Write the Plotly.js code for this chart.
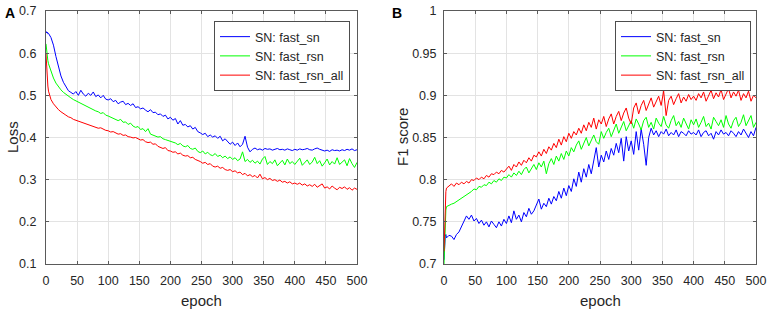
<!DOCTYPE html>
<html>
<head>
<meta charset="utf-8">
<script src="https://cdn.plot.ly/plotly-3.0.1.min.js"></script>
<style>html,body{margin:0;padding:0;background:#fff;}#chart{width:772px;height:314px;}</style>
</head>
<body>
<div id="chart"></div>
<script>
const epochs = [0,1,2,3,
 4,8,12,16,20,24,28,32,36,40,44,48,52,56,60,64,68,72,76,80,84,88,92,96,100,
 104,108,112,116,120,124,128,132,136,140,144,148,152,156,160,164,168,172,176,180,184,188,192,196,200,
 204,208,212,216,220,224,228,232,236,240,244,248,252,256,260,264,268,272,276,280,284,288,292,296,300,
 304,308,312,316,320,324,328,332,336,340,344,348,352,356,360,364,368,372,376,380,384,388,392,396,400,
 404,408,412,416,420,424,428,432,436,440,444,448,452,456,460,464,468,472,476,480,484,488,492,496,500];

const seriesNames = ['SN: fast_sn', 'SN: fast_rsn', 'SN: fast_rsn_all'];

const lossFastSn = [0.652,0.648,0.650,0.646,
 0.647,0.637,0.619,0.592,0.569,0.546,0.531,0.520,0.511,0.507,0.503,0.509,0.500,0.512,0.503,0.498,0.505,0.500,0.508,0.497,0.501,0.494,0.500,0.491,0.489,
 0.492,0.485,0.488,0.480,0.484,0.486,0.478,0.481,0.476,0.480,0.471,0.473,0.468,0.470,0.465,0.461,0.466,0.459,0.460,0.454,0.456,0.450,0.453,0.444,0.448,
 0.441,0.445,0.432,0.440,0.429,0.431,0.425,0.428,0.420,0.424,0.414,0.411,0.407,0.410,0.402,0.406,0.401,0.404,0.398,0.403,0.392,0.397,0.390,0.384,0.389,
 0.381,0.387,0.378,0.384,0.403,0.377,0.366,0.372,0.375,0.371,0.373,0.370,0.374,0.372,0.373,0.370,0.372,0.374,0.371,0.372,0.370,0.373,0.371,0.369,0.372,
 0.370,0.373,0.371,0.372,0.374,0.371,0.370,0.373,0.375,0.372,0.369,0.368,0.370,0.367,0.371,0.369,0.370,0.368,0.371,0.369,0.372,0.370,0.373,0.369,0.371];

const lossFastRsn = [0.622,0.605,0.592,0.582,
 0.575,0.556,0.541,0.529,0.520,0.513,0.507,0.502,0.498,0.494,0.490,0.487,0.484,0.481,0.477,0.475,0.471,0.469,0.466,0.463,0.461,0.457,0.459,0.453,0.451,
 0.448,0.445,0.443,0.440,0.443,0.436,0.437,0.431,0.434,0.427,0.424,0.426,0.419,0.421,0.414,0.421,0.408,0.406,0.404,0.401,0.402,0.397,0.395,0.393,0.391,
 0.389,0.387,0.383,0.386,0.380,0.378,0.381,0.374,0.372,0.375,0.367,0.364,0.368,0.361,0.365,0.359,0.357,0.362,0.355,0.358,0.352,0.356,0.350,0.354,0.348,
 0.352,0.345,0.349,0.366,0.343,0.348,0.341,0.346,0.339,0.344,0.337,0.349,0.355,0.336,0.343,0.338,0.347,0.333,0.341,0.346,0.335,0.349,0.338,0.343,0.336,
 0.344,0.351,0.334,0.340,0.347,0.336,0.342,0.353,0.338,0.345,0.332,0.340,0.349,0.335,0.343,0.337,0.352,0.336,0.341,0.347,0.333,0.350,0.338,0.329,0.341];

const lossFastRsnAll = [0.598,0.560,0.540,0.522,
 0.510,0.490,0.480,0.472,0.466,0.461,0.456,0.453,0.449,0.447,0.443,0.441,0.438,0.437,0.434,0.433,0.430,0.428,0.427,0.425,0.422,0.423,0.419,0.417,0.416,
 0.413,0.414,0.410,0.408,0.409,0.405,0.406,0.402,0.401,0.399,0.400,0.396,0.394,0.395,0.390,0.388,0.389,0.384,0.385,0.379,0.377,0.374,0.376,0.369,0.368,
 0.365,0.366,0.361,0.363,0.358,0.356,0.357,0.352,0.353,0.348,0.346,0.343,0.339,0.341,0.336,0.338,0.332,0.330,0.332,0.327,0.329,0.324,0.322,0.324,0.319,
 0.321,0.316,0.318,0.312,0.315,0.309,0.312,0.307,0.310,0.304,0.313,0.302,0.305,0.300,0.303,0.298,0.300,0.296,0.299,0.294,0.296,0.292,0.295,0.290,0.292,
 0.289,0.292,0.287,0.290,0.285,0.288,0.284,0.289,0.282,0.286,0.290,0.280,0.283,0.278,0.285,0.280,0.276,0.282,0.279,0.283,0.277,0.281,0.275,0.280,0.277];

const f1FastSn = [0.705,0.725,0.733,0.735,
 0.731,0.734,0.733,0.729,0.735,0.738,0.745,0.750,0.757,0.753,0.758,0.751,0.754,0.748,0.752,0.746,0.750,0.744,0.751,0.747,0.743,0.750,0.745,0.753,0.748,
 0.757,0.749,0.763,0.753,0.758,0.750,0.761,0.756,0.766,0.759,0.763,0.770,0.777,0.765,0.772,0.768,0.778,0.771,0.780,0.775,0.786,0.778,0.790,0.781,0.793,
 0.786,0.801,0.792,0.809,0.797,0.813,0.803,0.818,0.807,0.823,0.838,0.815,0.829,0.821,0.834,0.824,0.837,0.829,0.843,0.832,0.849,0.822,0.851,0.834,0.846,
 0.830,0.857,0.835,0.860,0.842,0.817,0.850,0.861,0.853,0.858,0.851,0.857,0.854,0.860,0.852,0.856,0.853,0.859,0.851,0.857,0.855,0.852,0.858,0.854,0.856,
 0.853,0.859,0.851,0.856,0.858,0.852,0.855,0.848,0.857,0.853,0.859,0.854,0.856,0.852,0.858,0.855,0.851,0.857,0.853,0.860,0.854,0.850,0.857,0.852,0.862];

const f1FastRsn = [0.700,0.735,0.755,0.764,
 0.768,0.770,0.771,0.772,0.774,0.775,0.778,0.779,0.782,0.783,0.786,0.789,0.788,0.792,0.791,0.794,0.793,0.797,0.795,0.799,0.797,0.801,0.799,0.803,0.802,
 0.806,0.803,0.808,0.805,0.810,0.806,0.812,0.815,0.808,0.813,0.818,0.812,0.820,0.815,0.822,0.807,0.819,0.825,0.818,0.828,0.822,0.831,0.824,0.834,0.828,
 0.838,0.833,0.841,0.846,0.836,0.843,0.850,0.840,0.847,0.853,0.845,0.842,0.857,0.849,0.856,0.861,0.851,0.858,0.866,0.855,0.862,0.869,0.858,0.864,0.870,
 0.861,0.872,0.866,0.859,0.870,0.874,0.862,0.868,0.860,0.873,0.867,0.863,0.875,0.865,0.861,0.870,0.876,0.864,0.869,0.862,0.873,0.866,0.860,0.871,0.865,
 0.872,0.862,0.868,0.875,0.863,0.867,0.860,0.874,0.869,0.864,0.871,0.862,0.876,0.866,0.861,0.870,0.874,0.863,0.868,0.877,0.864,0.871,0.876,0.862,0.868];

const f1FastRsnAll = [0.715,0.750,0.772,0.786,
 0.790,0.793,0.795,0.792,0.796,0.794,0.797,0.795,0.798,0.796,0.800,0.799,0.802,0.800,0.803,0.801,0.805,0.803,0.807,0.806,0.809,0.807,0.811,0.809,0.812,
 0.816,0.811,0.818,0.815,0.821,0.817,0.823,0.820,0.826,0.822,0.829,0.827,0.833,0.828,0.836,0.831,0.839,0.835,0.843,0.838,0.848,0.841,0.851,0.845,0.855,
 0.849,0.857,0.853,0.861,0.855,0.865,0.858,0.868,0.862,0.873,0.860,0.871,0.866,0.875,0.863,0.872,0.878,0.866,0.875,0.881,0.870,0.879,0.885,0.873,0.866,
 0.885,0.891,0.878,0.888,0.894,0.882,0.890,0.897,0.886,0.893,0.899,0.888,0.905,0.876,0.894,0.899,0.889,0.896,0.902,0.891,0.898,0.893,0.901,0.895,0.899,
 0.894,0.902,0.897,0.904,0.893,0.900,0.906,0.896,0.903,0.898,0.907,0.895,0.901,0.908,0.897,0.904,0.899,0.906,0.894,0.902,0.897,0.905,0.893,0.900,0.897];

const colors = ['#0000ff', '#00ff00', '#ff0000'];
const lossSeries = [lossFastSn, lossFastRsn, lossFastRsnAll];
const f1Series = [f1FastSn, f1FastRsn, f1FastRsnAll];

const W = 772, H = 314;
const FONT = 'Liberation Sans, Arial, sans-serif';
const px = v => v / W;
const py = v => 1 - v / H;

const traces = [];
lossSeries.forEach((ys, i) => traces.push({
  x: epochs, y: ys, type: 'scatter', mode: 'lines', name: seriesNames[i],
  line: {color: colors[i], width: 1}, xaxis: 'x', yaxis: 'y', legend: 'legend'
}));
f1Series.forEach((ys, i) => traces.push({
  x: epochs, y: ys, type: 'scatter', mode: 'lines', name: seriesNames[i],
  line: {color: colors[i], width: 1}, xaxis: 'x2', yaxis: 'y2', legend: 'legend2'
}));

const axisCommon = {
  showline: true, linecolor: '#5a5a5a', linewidth: 1, mirror: 'ticks',
  ticks: 'inside', ticklen: 3, tickcolor: '#5a5a5a', tickwidth: 1,
  showgrid: true, gridcolor: '#e3e3e3', gridwidth: 1, zeroline: false,
  tickfont: {family: FONT, size: 12.5, color: '#262626'},
  fixedrange: true, automargin: false
};

const legendCommon = {
  bgcolor: '#ffffff', bordercolor: '#4d4d4d', borderwidth: 1,
  font: {family: FONT, size: 12.5, color: '#262626'},
  xanchor: 'right', yanchor: 'top', tracegroupgap: 0, itemwidth: 30
};

const layout = {
  width: W, height: H,
  margin: {l: 0, r: 0, t: 0, b: 0},
  paper_bgcolor: '#ffffff', plot_bgcolor: '#ffffff',
  showlegend: true,
  xaxis: Object.assign({}, axisCommon, {domain: [px(46), px(357)], range: [0, 500], dtick: 50, tick0: 0, anchor: 'y', ticklabelstandoff: 5}),
  yaxis: Object.assign({}, axisCommon, {domain: [1 - 264 / H, 1 - 11 / H], range: [0.1, 0.7], dtick: 0.1, tick0: 0.1, anchor: 'x', ticklabelstandoff: 6}),
  xaxis2: Object.assign({}, axisCommon, {domain: [px(444), px(756)], range: [0, 500], dtick: 50, tick0: 0, anchor: 'y2', ticklabelstandoff: 5}),
  yaxis2: Object.assign({}, axisCommon, {domain: [1 - 264 / H, 1 - 11 / H], range: [0.7, 1.0], dtick: 0.05, tick0: 0.7, anchor: 'x2', ticklabelstandoff: 4}),
  legend: Object.assign({}, legendCommon, {x: px(350), y: py(21)}),
  legend2: Object.assign({}, legendCommon, {x: px(751), y: py(21)}),
  annotations: [
    {text: '<b>A</b>', x: px(10), y: py(12.5), xref: 'paper', yref: 'paper', showarrow: false, xanchor: 'center', yanchor: 'middle', font: {family: FONT, size: 14, color: '#000000'}},
    {text: '<b>B</b>', x: px(397), y: py(12.5), xref: 'paper', yref: 'paper', showarrow: false, xanchor: 'center', yanchor: 'middle', font: {family: FONT, size: 14, color: '#000000'}},
    {text: 'epoch', x: px(201.5), y: py(300), xref: 'paper', yref: 'paper', showarrow: false, xanchor: 'center', yanchor: 'middle', font: {family: FONT, size: 15, color: '#262626'}},
    {text: 'epoch', x: px(600), y: py(300), xref: 'paper', yref: 'paper', showarrow: false, xanchor: 'center', yanchor: 'middle', font: {family: FONT, size: 15, color: '#262626'}},
    {text: 'Loss', x: px(12), y: py(137), xref: 'paper', yref: 'paper', showarrow: false, textangle: -90, xanchor: 'center', yanchor: 'middle', font: {family: FONT, size: 15, color: '#262626'}},
    {text: 'F1 score', x: px(402), y: py(137), xref: 'paper', yref: 'paper', showarrow: false, textangle: -90, xanchor: 'center', yanchor: 'middle', font: {family: FONT, size: 15, color: '#262626'}}
  ]
};

Plotly.newPlot('chart', traces, layout, {staticPlot: true, displayModeBar: false});
</script>
</body>
</html>
